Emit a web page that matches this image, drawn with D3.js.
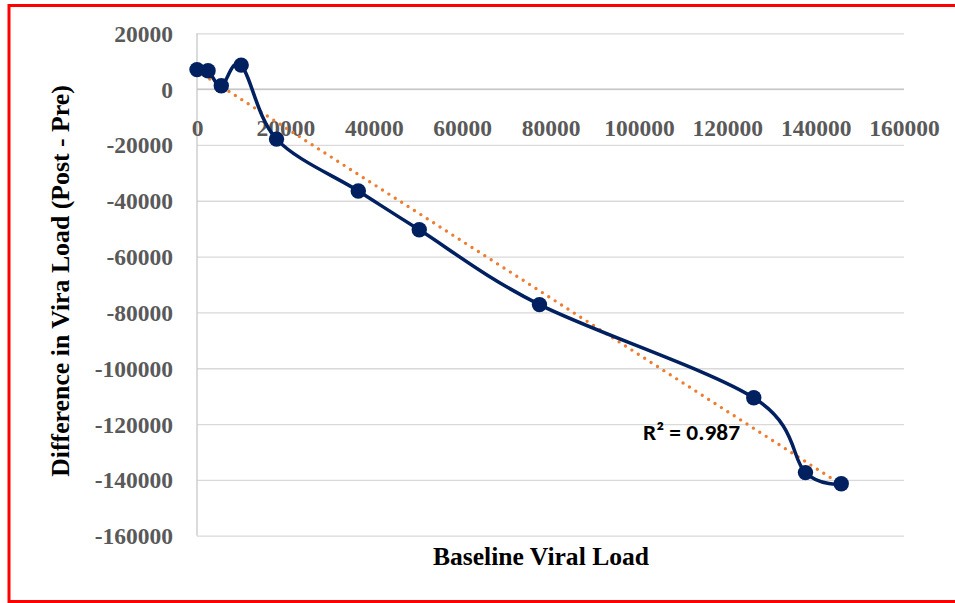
<!DOCTYPE html>
<html>
<head>
<meta charset="utf-8">
<script src="https://cdn.jsdelivr.net/npm/d3@7"></script>
<style>
  html, body { margin: 0; padding: 0; background: #fff; }
  svg { display: block; }
</style>
</head>
<body>
<svg id="chart" width="955" height="603"></svg>
<script>
// Data
const baselineLoad = [0, 2500, 5500, 10000, 18000, 36500, 50300, 77500, 126000, 137700, 145800];
const loadDifference = [7000, 6600, 1200, 8600, -17900, -36500, -50400, -77200, -110600, -137400, -141400];
const xTicks = [0, 20000, 40000, 60000, 80000, 100000, 120000, 140000, 160000];
const yTicks = [20000, 0, -20000, -40000, -60000, -80000, -100000, -120000, -140000, -160000];
const rSquaredLabel = "R\u00B2 = 0.987";
const xTitle = "Baseline Viral Load";
const yTitle = "Difference in Vira Load (Post - Pre)";

const svg = d3.select("#chart");

const x = d3.scaleLinear().domain([0, 160000]).range([197, 904]);
const y = d3.scaleLinear().domain([-160000, 20000]).range([535.7, 33.3]);

// red frame
svg.append("rect")
  .attr("x", 9).attr("y", 5.5).attr("width", 970).attr("height", 596)
  .attr("fill", "none").attr("stroke", "#ff0000").attr("stroke-width", 3);

// horizontal gridlines
const grid = d3.axisLeft(y).tickValues(yTicks).tickSize(-(x.range()[1] - x.range()[0])).tickFormat("");
const gG = svg.append("g").attr("transform", `translate(${x(0)},0)`).call(grid);
gG.select(".domain").remove();
gG.selectAll("line").attr("stroke", "#d9d9d9").attr("stroke-width", 1.3);

// vertical axis line
svg.append("line")
  .attr("x1", x(0)).attr("x2", x(0)).attr("y1", y(20000)).attr("y2", y(-160000))
  .attr("stroke", "#c8c8c8").attr("stroke-width", 1.3);
// horizontal axis line at 0
svg.append("line")
  .attr("x1", x(0)).attr("x2", x(160000)).attr("y1", y(0)).attr("y2", y(0))
  .attr("stroke", "#c0c0c0").attr("stroke-width", 1.3);

const tickFont = "'Liberation Serif', 'Times New Roman', serif";

// y tick labels
const yAxis = d3.axisLeft(y).tickValues(yTicks).tickSize(0).tickPadding(0).tickFormat(d => String(d));
const yA = svg.append("g").attr("transform", `translate(173,0)`).call(yAxis);
yA.select(".domain").remove();
yA.selectAll("text")
  .attr("font-family", tickFont).attr("font-weight", "bold").attr("font-size", 23.5)
  .attr("fill", "#595959").attr("dy", "0.34em");

// x tick labels (below the zero axis)
const xAxis = d3.axisBottom(x).tickValues(xTicks).tickSize(0).tickPadding(0).tickFormat(d => String(d));
const xA = svg.append("g").attr("transform", `translate(0,135.5)`).call(xAxis);
xA.select(".domain").remove();
xA.selectAll("text")
  .attr("font-family", tickFont).attr("font-weight", "bold").attr("font-size", 23.5)
  .attr("fill", "#595959").attr("dy", 0);

// linear trendline (least squares from the data)
const n = baselineLoad.length;
const mx = d3.mean(baselineLoad), my = d3.mean(loadDifference);
let sxy = 0, sxx = 0;
for (let i = 0; i < n; i++) {
  sxy += (baselineLoad[i] - mx) * (loadDifference[i] - my);
  sxx += (baselineLoad[i] - mx) ** 2;
}
const slope = sxy / sxx, intercept = my - slope * mx;
const x0 = d3.min(baselineLoad), x1 = d3.max(baselineLoad);
svg.append("line")
  .attr("x1", x(x0)).attr("y1", y(intercept + slope * x0))
  .attr("x2", x(x1)).attr("y2", y(intercept + slope * x1))
  .attr("stroke", "#ed7d31").attr("stroke-width", 3.4)
  .attr("stroke-linecap", "round").attr("stroke-dasharray", "0 7.6");

// smoothed series line
const pts = baselineLoad.map((v, i) => [v, loadDifference[i]]);
const line = d3.line().x(d => x(d[0])).y(d => y(d[1])).curve(d3.curveCardinal.tension(0));
svg.append("path").datum(pts)
  .attr("d", line).attr("fill", "none")
  .attr("stroke", "#002060").attr("stroke-width", 3.5);

// markers
svg.append("g").selectAll("circle").data(pts).join("circle")
  .attr("cx", d => x(d[0])).attr("cy", d => y(d[1])).attr("r", 7.7)
  .attr("fill", "#002060");

// R² label
svg.append("text")
  .attr("x", 643).attr("y", 440)
  .attr("font-family", "Carlito, Calibri, 'Open Sans', Lato, sans-serif")
  .attr("font-weight", "bold").attr("font-size", 22.5).attr("fill", "#000")
  .attr("textLength", 97).attr("lengthAdjust", "spacingAndGlyphs")
  .text(rSquaredLabel);

// axis titles
svg.append("text")
  .attr("x", 541).attr("y", 565)
  .attr("text-anchor", "middle")
  .attr("font-family", tickFont).attr("font-weight", "bold").attr("font-size", 25.6)
  .attr("fill", "#000").text(xTitle);

svg.append("text")
  .attr("transform", "translate(68.5,281) rotate(-90)")
  .attr("text-anchor", "middle")
  .attr("font-family", tickFont).attr("font-weight", "bold").attr("font-size", 25.8)
  .attr("fill", "#000").text(yTitle);
</script>
</body>
</html>
